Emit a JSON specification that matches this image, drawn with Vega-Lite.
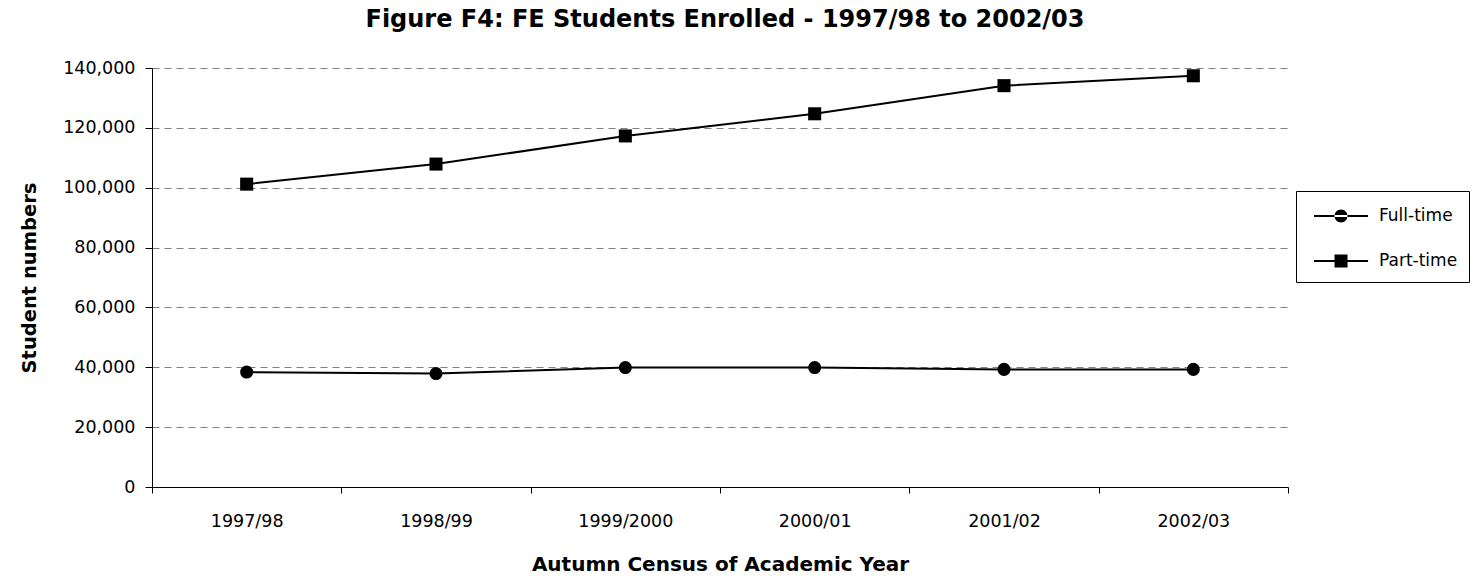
{
  "$schema": "https://vega.github.io/schema/vega-lite/v6.json",
  "width": 1136,
  "height": 419,
  "autosize": {"type": "none"},
  "padding": {"left": 152, "top": 68, "right": 189, "bottom": 100},
  "background": "white",
  "title": {
    "text": "Figure F4: FE Students Enrolled - 1997/98 to 2002/03",
    "font": "DejaVu Sans",
    "fontSize": 24,
    "fontWeight": "bold",
    "color": "black",
    "anchor": "middle",
    "frame": "group",
    "dx": 5,
    "offset": 27
  },
  "config": {
    "view": {"stroke": null},
    "font": "DejaVu Sans"
  },
  "data": {
    "values": [
      {"year": "1997/98", "type": "Full-time", "students": 38400},
      {"year": "1998/99", "type": "Full-time", "students": 37900},
      {"year": "1999/2000", "type": "Full-time", "students": 39900},
      {"year": "2000/01", "type": "Full-time", "students": 39900},
      {"year": "2001/02", "type": "Full-time", "students": 39300},
      {"year": "2002/03", "type": "Full-time", "students": 39300},
      {"year": "1997/98", "type": "Part-time", "students": 101200},
      {"year": "1998/99", "type": "Part-time", "students": 107900},
      {"year": "1999/2000", "type": "Part-time", "students": 117300},
      {"year": "2000/01", "type": "Part-time", "students": 124700},
      {"year": "2001/02", "type": "Part-time", "students": 134100},
      {"year": "2002/03", "type": "Part-time", "students": 137400}
    ]
  },
  "encoding": {
    "x": {
      "field": "year",
      "type": "nominal",
      "sort": null,
      "bandPosition": 0.5,
      "scale": {"type": "band", "paddingInner": 0, "paddingOuter": 0},
      "axis": {
        "title": "Autumn Census of Academic Year",
        "titleFont": "DejaVu Sans",
        "titleFontSize": 20,
        "titleFontWeight": "bold",
        "titleColor": "black",
        "titlePadding": 25,
        "labelFont": "DejaVu Sans",
        "labelFontSize": 17.5,
        "labelColor": "black",
        "labelAngle": 0,
        "labelPadding": 19,
        "tickBand": "extent",
        "tickSize": 6,
        "tickColor": "black",
        "domainColor": "black",
        "domainWidth": 1,
        "grid": false
      }
    },
    "y": {
      "field": "students",
      "type": "quantitative",
      "scale": {"domain": [0, 140000], "nice": false},
      "axis": {
        "title": "Student numbers",
        "titleFont": "DejaVu Sans",
        "titleFontSize": 19.5,
        "titleFontWeight": "bold",
        "titleColor": "black",
        "titlePadding": 23,
        "labelFont": "DejaVu Sans",
        "labelFontSize": 17.5,
        "labelColor": "black",
        "labelPadding": 10,
        "values": [0, 20000, 40000, 60000, 80000, 100000, 120000, 140000],
        "format": ",.0f",
        "tickSize": 7,
        "tickColor": "black",
        "domainColor": "black",
        "grid": true,
        "gridColor": "#808080",
        "gridDash": [7, 5],
        "gridWidth": 1
      }
    }
  },
  "layer": [
    {
      "mark": {"type": "line", "color": "black", "strokeWidth": 2},
      "encoding": {"detail": {"field": "type", "type": "nominal"}}
    },
    {
      "mark": {"type": "point", "filled": true, "color": "black", "opacity": 1, "size": 170},
      "encoding": {
        "shape": {
          "field": "type",
          "type": "nominal",
          "scale": {"domain": ["Full-time", "Part-time"], "range": ["circle", "square"]},
          "legend": null
        }
      }
    },
    {
      "mark": {"type": "point", "filled": true, "color": "black", "opacity": 0, "size": 1},
      "encoding": {
        "shape": {
          "field": "type",
          "type": "nominal",
          "scale": {
            "domain": ["Full-time", "Part-time"],
            "range": [
              "M-0.54,-0.08L3.62,-0.08L3.62,0.08L-0.54,0.08ZM1.04,0A0.5,0.5 0 1,0 2.04,0A0.5,0.5 0 1,0 1.04,0Z",
              "M-0.54,-0.08L3.62,-0.08L3.62,0.08L-0.54,0.08ZM1.04,-0.5L2.04,-0.5L2.04,0.5L1.04,0.5Z"
            ]
          },
          "legend": {
            "title": null,
            "orient": "none",
            "legendX": 1144,
            "legendY": 123,
            "strokeColor": "black",
            "fillColor": "white",
            "padding": 11,
            "rowPadding": 21,
            "symbolSize": 676,
            "symbolOpacity": 1,
            "symbolFillColor": "black",
            "labelOffset": 44,
            "labelFont": "DejaVu Sans",
            "labelFontSize": 17,
            "labelColor": "black"
          }
        }
      }
    }
  ],
  "resolve": {"scale": {"shape": "independent"}, "legend": {"shape": "independent"}}
}
